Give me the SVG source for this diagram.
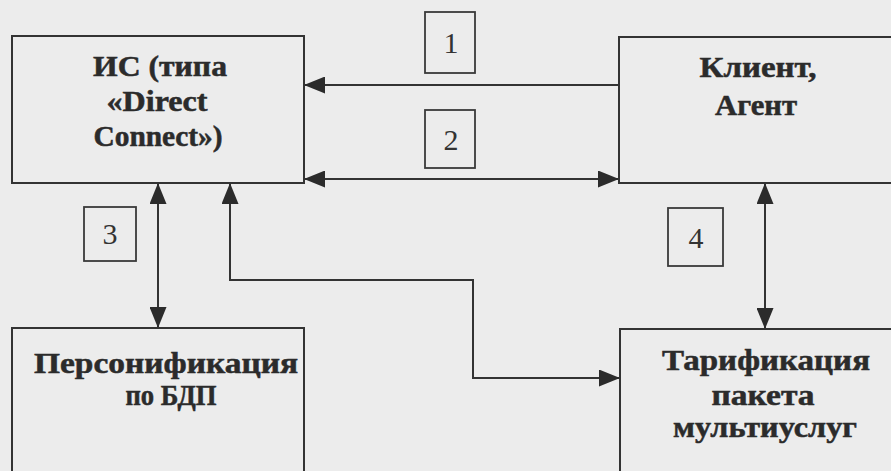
<svg xmlns="http://www.w3.org/2000/svg" width="891" height="471" viewBox="0 0 891 471">
<style>
.box{fill:none;stroke:#333;stroke-width:2}
.lbl{fill:none;stroke:#3a3a3a;stroke-width:1.8}
.con{fill:none;stroke:#333;stroke-width:2}
.t{font-family:"Liberation Serif","Times New Roman",serif;font-weight:bold;font-size:29px;fill:#2b2b2b;stroke:#2b2b2b;stroke-width:0.5;text-anchor:middle}
.n{font-family:"Liberation Serif","Times New Roman",serif;font-size:30px;fill:#333;text-anchor:middle}
</style>
<defs>
<marker id="ah" viewBox="0 0 21 17" refX="21" refY="8.5" markerWidth="21" markerHeight="17" markerUnits="userSpaceOnUse" orient="auto-start-reverse">
<path d="M0,0 L21,8.5 L0,17 Z" fill="#2b2b2b"/>
</marker>
</defs>
<rect width="891" height="471" fill="#ececec"/>
<g id="connectors">
<line class="con" x1="619" y1="85" x2="304" y2="85" marker-end="url(#ah)"/>
<line class="con" x1="304" y1="179" x2="619" y2="179" marker-start="url(#ah)" marker-end="url(#ah)"/>
<line class="con" x1="158" y1="183" x2="158" y2="328" marker-start="url(#ah)" marker-end="url(#ah)"/>
<path class="con" d="M230,183 V280 H473 V378 H620" marker-start="url(#ah)" marker-end="url(#ah)"/>
<line class="con" x1="765" y1="183" x2="765" y2="329" marker-start="url(#ah)" marker-end="url(#ah)"/>
</g>
<g id="node-is">
<rect class="box" x="12" y="36" width="292" height="147"/>
<text class="t" x="160" y="76" textLength="134" lengthAdjust="spacingAndGlyphs">ИС (типа</text>
<text class="t" x="157" y="111" textLength="101" lengthAdjust="spacingAndGlyphs">«Direct</text>
<text class="t" x="158" y="146" textLength="129" lengthAdjust="spacingAndGlyphs">Connect»)</text>
</g>
<g id="node-client">
<rect class="box" x="619" y="37" width="300" height="146"/>
<text class="t" x="758" y="77" textLength="117" lengthAdjust="spacingAndGlyphs">Клиент,</text>
<text class="t" x="756" y="115" textLength="82" lengthAdjust="spacingAndGlyphs">Агент</text>
</g>
<g id="node-person">
<rect class="box" x="12" y="328" width="292" height="200"/>
<text class="t" x="166" y="373" textLength="264" lengthAdjust="spacingAndGlyphs">Персонификация</text>
<text class="t" x="171" y="405" textLength="91" lengthAdjust="spacingAndGlyphs">по БДП</text>
</g>
<g id="node-tarif">
<rect class="box" x="620" y="329" width="300" height="200"/>
<text class="t" x="766" y="370" textLength="208" lengthAdjust="spacingAndGlyphs">Тарификация</text>
<text class="t" x="763" y="405" textLength="103" lengthAdjust="spacingAndGlyphs">пакета</text>
<text class="t" x="765" y="437" textLength="184" lengthAdjust="spacingAndGlyphs">мультиуслуг</text>
</g>
<g id="label-1">
<rect class="lbl" x="425" y="12" width="50" height="61"/>
<text class="n" x="451" y="53">1</text>
</g>
<g id="label-2">
<rect class="lbl" x="425" y="110" width="50" height="58"/>
<text class="n" x="451" y="150">2</text>
</g>
<g id="label-3">
<rect class="lbl" x="84" y="207" width="52" height="54"/>
<text class="n" x="110" y="244">3</text>
</g>
<g id="label-4">
<rect class="lbl" x="668" y="208" width="55" height="58"/>
<text class="n" x="696" y="248">4</text>
</g>
</svg>
